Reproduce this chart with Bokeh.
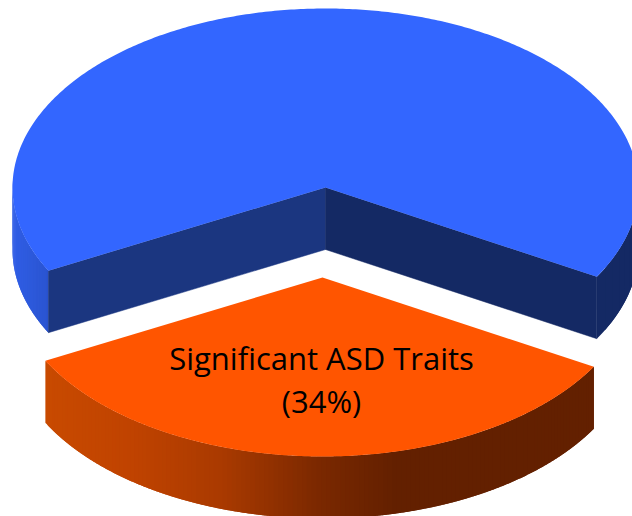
import numpy as np
from bokeh.plotting import figure
from bokeh.models import ColumnDataSource
from bokeh.core.properties import value
from bokeh.embed import file_html
from bokeh.resources import INLINE

# Data
categories = ["Significant ASD Traits", "Other"]
shares = [34, 66]
label_lines = ["Significant ASD Traits", "(34%)"]

# Colours
top_colors = ["#ff5500", "#3366ff"]
inner_left = "#1b3680"
inner_right = "#142964"
orange_stops_x = [46, 130, 220, 320, 395, 595]
orange_stops_c = [(200, 74, 0), (192, 67, 0), (170, 58, 0), (122, 40, 0), (99, 32, 0), (99, 32, 0)]
blue_stops_x = [12, 48, 595, 640]
blue_stops_c = [(48, 94, 230), (42, 84, 208), (20, 41, 100), (20, 41, 100)]

# Projection of the pie
A, B, DEPTH = 313.0, 179.0, 62.0
BLUE_C = (325.0, 187.0)
ORANGE_C = (322.0, 277.0)
START = -62.3  # degrees from straight down, toward the left


def rim(center, t0, t1, n=200):
    t = np.radians(np.linspace(t0, t1, n))
    return center[0] + A * np.sin(t), center[1] + B * np.cos(t)


def ramp(x, xs, cs):
    c = [np.interp(x, xs, [k[i] for k in cs]) for i in range(3)]
    return "#%02x%02x%02x" % tuple(int(round(v)) for v in c)


def strips(p, center, t0, t1, xs, cs, n):
    # Each strip runs on under the next one, so no seams show between them.
    edges = np.linspace(t0, t1, n + 1)
    px, py, col = [], [], []
    for i in range(n):
        x, y = rim(center, edges[i], edges[min(i + 2, n)], 8)
        mid, _ = rim(center, edges[i], edges[i + 1], 3)
        px.append(list(x) + list(x[::-1]))
        py.append(list(y) + list((y + DEPTH)[::-1]))
        col.append(ramp(mid[1], xs, cs))
    p.patches(px, py, fill_color=col, line_color=None)


sweep = 360.0 * shares[0] / sum(shares)
END = START + sweep

p = figure(width=632, height=516, x_range=(0, 632), y_range=(516, 0),
           output_backend="svg", toolbar_location=None, min_border=0,
           outline_line_color=None, background_fill_color="white")
p.axis.visible = False
p.grid.visible = False

# Blue slice: outer side
strips(p, BLUE_C, START - 30, START, blue_stops_x, blue_stops_c, 40)
strips(p, BLUE_C, END, END + 32, blue_stops_x, blue_stops_c, 10)

# Blue slice: inner faces
xl, yl = rim(BLUE_C, START, START, 1)
xr, yr = rim(BLUE_C, END, END, 1)
cx, cy = BLUE_C
p.patch([cx, xl[0], xl[0], cx], [cy, yl[0], yl[0] + DEPTH, cy + DEPTH],
        fill_color=inner_left, line_color=inner_left, line_width=0.5)
p.patch([cx, xr[0], xr[0], cx], [cy, yr[0], yr[0] + DEPTH, cy + DEPTH],
        fill_color=inner_right, line_color=inner_right, line_width=0.5)

# Blue slice: top
x, y = rim(BLUE_C, END, START + 360, 400)
p.patch([cx] + list(x), [cy] + list(y), fill_color=top_colors[1], line_color=None)

# Orange slice: outer side
strips(p, ORANGE_C, START, END, orange_stops_x, orange_stops_c, 140)

# Orange slice: top
x, y = rim(ORANGE_C, START, END, 200)
p.patch([ORANGE_C[0]] + list(x), [ORANGE_C[1]] + list(y), fill_color=top_colors[0], line_color=None)

# Label
src = ColumnDataSource(dict(x=[321, 321], y=[357, 400], t=label_lines))
p.text("x", "y", text="t", source=src, text_align="center", text_baseline="alphabetic",
       text_font=value("Open Sans"), text_font_size="31px", text_color="#000000")

open("out.html", "w").write(file_html(p, INLINE))
